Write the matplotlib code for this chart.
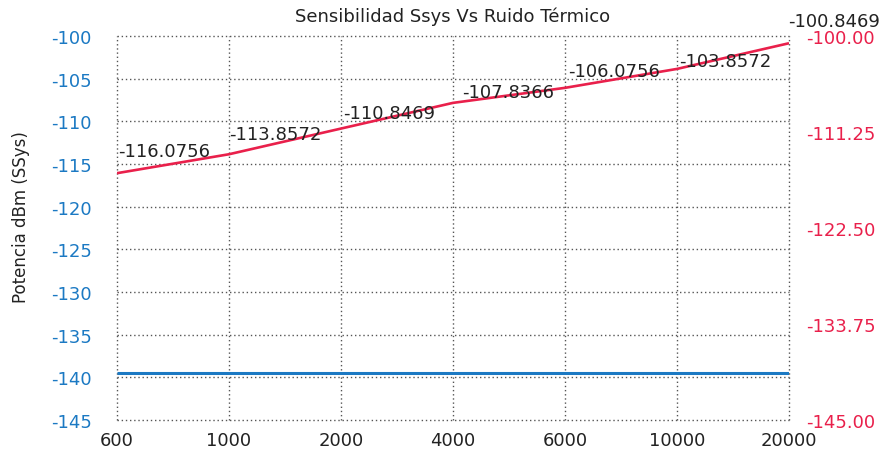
import numpy as np
import matplotlib
matplotlib.use('Agg')
import matplotlib.pyplot as plt

# datos
anchos_banda = ['600', '1000', '2000', '4000', '6000', '10000', '20000']
ssys = [-116.0756, -113.8572, -110.8469, -107.8366, -106.0756, -103.8572, -100.8469]
ruido_termico = [-139.5] * 7

azul = '#1b79c3'
rojo = '#e9204b'
texto = '#222222'

plt.rcParams['font.family'] = ['DejaVu Sans']
plt.rcParams['axes.unicode_minus'] = False

fig = plt.figure(figsize=(8.84, 4.56), dpi=100)
ax = fig.add_axes([117/884, 35/456, 672/884, 384/456])
ax2 = ax.twinx()

x = np.arange(len(anchos_banda))
ax.plot(x, ruido_termico, color=azul, lw=2.2, solid_capstyle='butt')
ax2.plot(x, ssys, color=rojo, lw=1.9, solid_capstyle='butt')

for a in (ax, ax2):
    a.set_ylim(-145, -100)
    a.set_xlim(0, len(anchos_banda) - 1)
    for s in a.spines.values():
        s.set_visible(False)

# pad en puntos
ax.set_yticks(np.arange(-145, -99, 5))
ax.tick_params(axis='y', length=0, pad=18, labelsize=13, labelcolor=azul)
ax.set_xticks(x)
ax.set_xticklabels(anchos_banda)
ax.tick_params(axis='x', length=0, pad=8, labelsize=13, labelcolor=texto)
ax.grid(True, color='#555555', linestyle=(0, (1, 2)), lw=1)
for gl in ax.get_xgridlines() + ax.get_ygridlines():
    gl.set_clip_on(False)

ax2.set_yticks(np.linspace(-145, -100, 5))
ax2.set_yticklabels(['%.2f' % v for v in np.linspace(-145, -100, 5)])
ax2.tick_params(axis='y', length=0, pad=12, labelsize=13, labelcolor=rojo)

# etiquetas de los valores (desplazamiento en pixeles)
desp = [(1, 17), (0, 15), (2, 11), (9, 6), (3, 12), (2, 3), (-1, 17)]
for i, v in enumerate(ssys):
    ax2.annotate('%.4f' % v, (x[i], v), xytext=desp[i], textcoords='offset pixels',
                 ha='left', va='baseline', fontsize=13, color=texto,
                 annotation_clip=False)

ax.set_ylabel('Potencia dBm (SSys)', fontsize=12, color=texto)
ax.yaxis.set_label_coords(-0.129, 0.53)
ax.set_title('Sensibilidad Ssys Vs Ruido Térmico', fontsize=13, color=texto, pad=11)

fig.savefig('out.png', dpi=100)
